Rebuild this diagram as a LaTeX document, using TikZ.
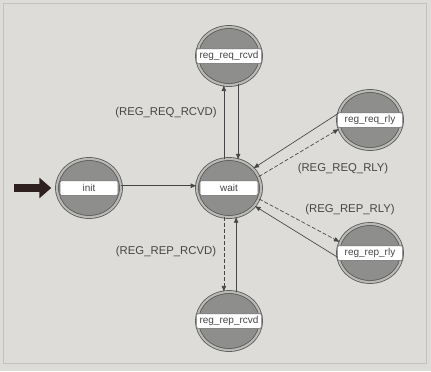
\documentclass[tikz,border=0pt]{standalone}
\usepackage{fontspec}
\setmainfont{Liberation Sans}
\usetikzlibrary{shapes.geometric,arrows.meta}

\definecolor{framegray}{RGB}{196,194,190}
\definecolor{paper}{RGB}{222,220,216}
\definecolor{ringdark}{RGB}{88,88,88}
\definecolor{ringlight}{RGB}{185,185,182}
\definecolor{statefill}{RGB}{142,142,140}
\definecolor{bandline}{RGB}{110,110,110}
\definecolor{textgray}{RGB}{70,70,70}
\definecolor{linegray}{RGB}{70,70,70}
\definecolor{entry}{RGB}{45,32,30}

\tikzset{every picture/.style={line width=0.6pt}}
\tikzset{
  state/.style={ellipse, minimum width=48pt, minimum height=43.5pt, inner sep=0pt,
    draw=ringdark, double=ringlight, double distance=1.6pt, fill=statefill},
  band/.style={rectangle, fill=white, draw=bandline, line width=0.5pt,
    rounded corners=1pt, minimum height=11pt, inner sep=1pt, font=\fontsize{7.5}{8}\selectfont,
    text=textgray},
  tr/.style={draw=linegray, line width=0.5pt, -{Latex[length=4.5pt,width=3.6pt]}},
  trc/.style={tr, dash pattern=on 3pt off 1.5pt},
  cond/.style={inner sep=0.75pt, font=\fontsize{8.5}{9}\selectfont, text=textgray}
}

\begin{document}
\begin{tikzpicture}[x=0.75pt,y=0.75pt,yscale=-1,xscale=1]
\useasboundingbox (0,0) rectangle (431,371);

% Background
\fill [paper] (0,0) rectangle (431,371);
\draw [draw=framegray] (3,3) rectangle (426,363);

% States
\node [state] (init) at (89,188) {};
\node [state] (wait) at (229,188) {};
\node [state] (reqrcvd) at (229,56) {};
\node [state] (reqrly) at (370,120) {};
\node [state] (reprly) at (370,253) {};
\node [state] (reprcvd) at (229,321) {};

% State names
\node [band, minimum width=43.5pt] (init-l) at (init) {init};
\node [band, minimum width=43.5pt] (wait-l) at (wait) {wait};
\node [band, minimum width=49pt] (reqrcvd-l) at (reqrcvd) {reg\_req\_rcvd};
\node [band, minimum width=49pt] (reqrly-l) at (reqrly) {reg\_req\_rly};
\node [band, minimum width=49pt] (reprly-l) at (reprly) {reg\_rep\_rly};
\node [band, minimum width=49pt] (reprcvd-l) at (reprcvd) {reg\_rep\_rcvd};

% Entry arrow
\coordinate (start) at (14,188);
\draw [line width=5.6pt, draw=entry, -{Triangle[length=9pt,width=15pt]}] (start) -- ([xshift=-4pt]init.west);

% Transitions
\draw [tr] (init.4) -- (wait.176);
\draw [tr] (wait.100) -- (reqrcvd.260);
\draw [tr] (reqrcvd.288) -- (wait.72);
\draw [trc] (wait.260) -- (reprcvd.100);
\draw [tr] (reprcvd.76) -- (wait.284);
\draw [tr] (reqrly.168) -- (wait.39);
\draw [trc] (wait.21) -- (reqrly.196);
\draw [tr] (reprly.188) -- (wait.-35);
\draw [trc] (wait.-20) -- (reprly.160);

% Conditions
\node [cond] (c1) at (166,113) {(REG\_REQ\_RCVD)};
\node [cond] (c2) at (343,169) {(REG\_REQ\_RLY)};
\node [cond] (c3) at (350,210) {(REG\_REP\_RLY)};
\node [cond] (c4) at (166,252) {(REG\_REP\_RCVD)};

\end{tikzpicture}
\end{document}
